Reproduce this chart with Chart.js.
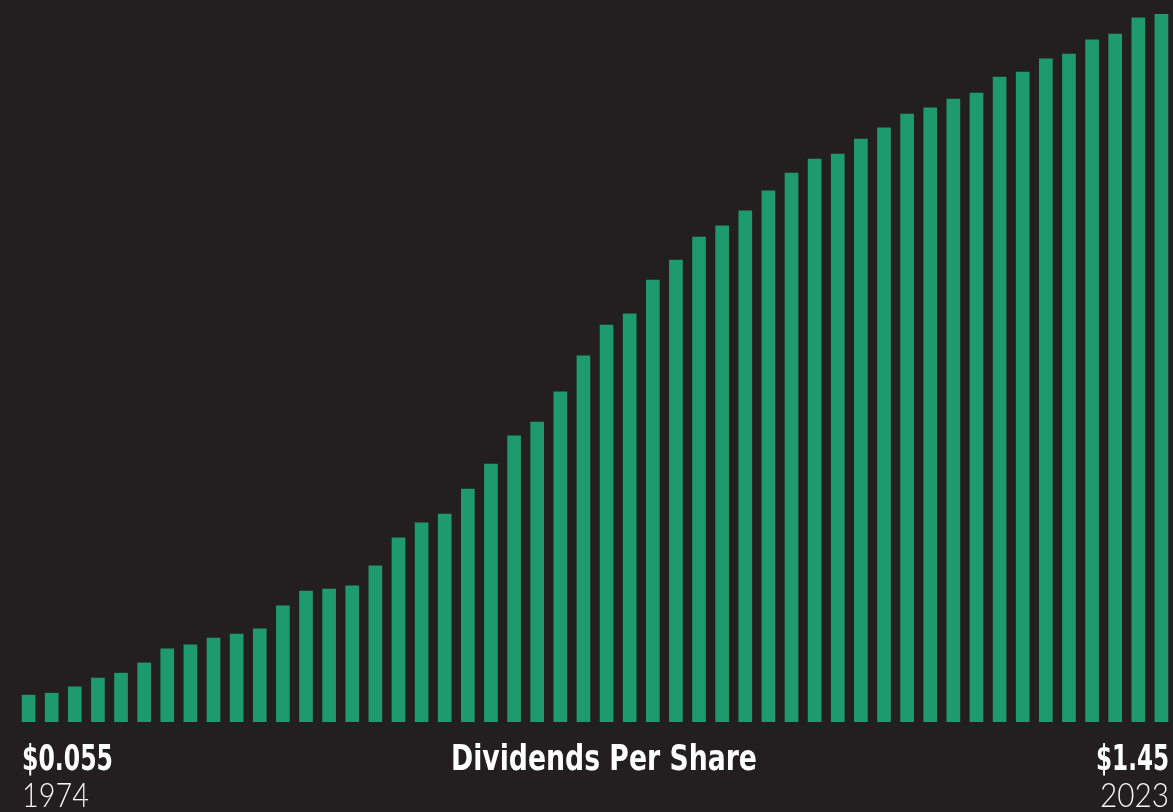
<!DOCTYPE html>
<html>
<head>
<meta charset="utf-8">
<script src="https://cdn.jsdelivr.net/npm/chart.js@4.4.1/dist/chart.umd.min.js"></script>
<style>
  html, body { margin: 0; padding: 0; background: #231f20; overflow: hidden; }
  #wrap { position: relative; width: 1173px; height: 812px; }
  #c { position: absolute; left: 0; top: 0; }
  .lbl { position: absolute; white-space: nowrap; color: #ffffff; line-height: 1; transform-origin: left top; }
  .big { font-family: "Liberation Sans Narrow", "DejaVu Sans Condensed", "Liberation Sans", sans-serif; font-weight: 700; }
  .yr { font-family: Lato, "Open Sans", sans-serif; font-weight: 300; color: #f6f6f6; }
</style>
</head>
<body>
<div id="wrap">
  <canvas id="c" width="1173" height="812"></canvas>
  <div class="lbl big" id="startVal" data-x="22" data-top="743" data-base="770" data-w="91"></div>
  <div class="lbl yr" id="startYear" data-x="22" data-top="783" data-base="808" data-w="67"></div>
  <div class="lbl big" id="title" data-x="451" data-top="743" data-base="770" data-w="306"></div>
  <div class="lbl big" id="endVal" data-x="1096" data-top="743" data-base="770" data-w="73"></div>
  <div class="lbl yr" id="endYear" data-x="1100" data-top="783" data-base="808" data-w="69"></div>
</div>
<script>
const years = [1974,1975,1976,1977,1978,1979,1980,1981,1982,1983,1984,1985,1986,1987,1988,1989,1990,1991,1992,1993,1994,1995,1996,1997,1998,1999,2000,2001,2002,2003,2004,2005,2006,2007,2008,2009,2010,2011,2012,2013,2014,2015,2016,2017,2018,2019,2020,2021,2022,2023];
const dividends = [0.055,0.059,0.072,0.090,0.100,0.121,0.150,0.158,0.172,0.180,0.191,0.238,0.268,0.272,0.279,0.320,0.377,0.408,0.426,0.477,0.528,0.586,0.614,0.676,0.750,0.813,0.836,0.905,0.946,0.993,1.016,1.047,1.088,1.124,1.153,1.163,1.194,1.217,1.245,1.258,1.276,1.288,1.321,1.331,1.358,1.368,1.397,1.409,1.442,1.45];
const titleText = "Dividends Per Share";
const startValText = "$0.055";
const endValText = "$1.45";

document.getElementById('startVal').textContent = startValText;
document.getElementById('endVal').textContent = endValText;
document.getElementById('title').textContent = titleText;
document.getElementById('startYear').textContent = String(years[0]);
document.getElementById('endYear').textContent = String(years[years.length-1]);

new Chart(document.getElementById('c'), {
  type: 'bar',
  data: {
    labels: years.map(String),
    datasets: [{ data: dividends, backgroundColor: '#1e9b6e', borderWidth: 0, barThickness: 13 }]
  },
  options: {
    responsive: false,
    animation: false,
    events: [],
    layout: { padding: { left: 17, right: 0, top: 14, bottom: 90 } },
    plugins: { legend: { display: false }, tooltip: { enabled: false }, title: { display: false } },
    scales: {
      x: { display: false, offset: true, grid: { display: false } },
      y: { display: false, min: 0, max: 1.45, grid: { display: false } }
    }
  }
});

// fit labels: size by digit/cap ink height, width by scaleX
const mctx = document.createElement('canvas').getContext('2d');
document.querySelectorAll('.lbl').forEach(el => {
  const x = +el.dataset.x, top = +el.dataset.top, base = +el.dataset.base, w = +el.dataset.w;
  const cs = getComputedStyle(el);
  const fam = cs.fontFamily, wt = cs.fontWeight;
  mctx.font = wt + ' 100px ' + fam;
  const m0 = mctx.measureText('0');
  const inkH = m0.actualBoundingBoxAscent; // per 100px
  const fs = (base - top) / inkH * 100;
  el.style.fontSize = fs.toFixed(2) + 'px';
  mctx.font = wt + ' ' + fs + 'px ' + fam;
  const m = mctx.measureText('0');
  const fA = m.fontBoundingBoxAscent, fD = m.fontBoundingBoxDescent;
  const baseline = (fs - (fA + fD)) / 2 + fA;
  el.style.top = (base - baseline) + 'px';
  el.style.left = x + 'px';
  const r = el.getBoundingClientRect();
  el.style.transform = 'scaleX(' + (w / r.width).toFixed(3) + ')';
});
</script>
</body>
</html>
